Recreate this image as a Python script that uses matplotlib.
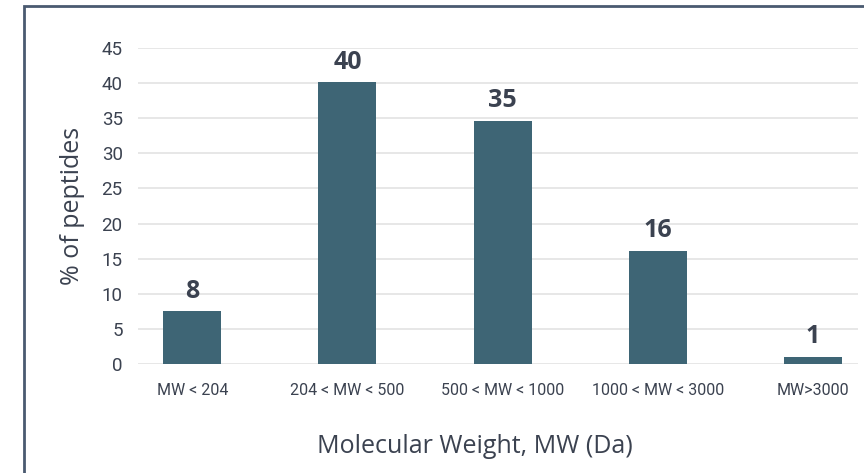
import matplotlib.pyplot as plt
from matplotlib.patches import Rectangle

# data
categories = ['MW < 204', '204 < MW < 500', '500 < MW < 1000', '1000 < MW < 3000', 'MW>3000']
heights = [7.5, 40.1, 34.6, 16.1, 1.0]
labels = ['8', '40', '35', '16', '1']

bar_color = '#3e6575'
text_color = '#3b4250'

plt.rcParams['font.family'] = ['Open Sans', 'DejaVu Sans']

fig = plt.figure(figsize=(8.64, 4.73), dpi=100)
ax = fig.add_axes([0.1597, 0.2304, 0.8333, 0.6681])

x = list(range(len(categories)))
ax.bar(x, heights, width=0.374, color=bar_color, zorder=3)

for xi, h, lab in zip(x, heights, labels):
    ax.text(xi, h + 1.1, lab, ha='center', va='bottom', fontsize=18,
            fontweight='bold', color=text_color)

ax.set_ylim(0, 45)
ax.set_xlim(-0.35, 4.29)
ax.set_yticks(range(0, 46, 5))
ax.yaxis.grid(True, color='#e3e3e3', linewidth=1.2, zorder=0)
ax.set_axisbelow(True)

narrow = ['Roboto', 'DejaVu Sans']
ax.set_xticks(x)
ax.set_xticklabels(categories, family=narrow)
ax.tick_params(axis='x', length=0, pad=14, labelsize=11.5, labelcolor=text_color)
ax.tick_params(axis='y', length=0, pad=11, labelsize=13.5, labelcolor=text_color)
for lab in ax.get_yticklabels():
    lab.set_family(narrow)

for s in ax.spines.values():
    s.set_visible(False)

ax.set_xlabel('Molecular Weight, MW (Da)', fontsize=18, color=text_color)
ax.xaxis.set_label_coords(0.468, -0.222)
ax.set_ylabel('% of peptides', fontsize=18, color=text_color, labelpad=12)

# outer frame, cut off at the right and bottom edges
frame = Rectangle((24 / 864, -0.1), 1.2, 1 - 6 / 473 + 0.1, transform=fig.transFigure,
                  fill=False, edgecolor='#4a5a70', linewidth=2, zorder=0)
fig.patches.append(frame)

fig.savefig('out.png', dpi=100)
